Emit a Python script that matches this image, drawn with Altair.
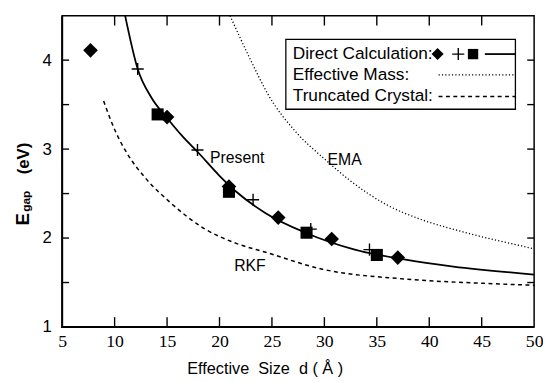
import altair as alt
import pandas as pd

# ---------------- data ----------------
diamond_d = [7.7, 15.0, 20.9, 25.6, 30.7, 37.0]
diamond_e = [4.11, 3.36, 2.58, 2.23, 1.99, 1.78]
square_d = [14.1, 20.9, 28.3, 35.0]
square_e = [3.39, 2.52, 2.06, 1.81]
plus_d = [12.2, 17.9, 23.2, 28.7, 34.3]
plus_e = [3.90, 2.99, 2.43, 2.10, 1.87]

present_d = [11.0, 12.2, 13.5, 15.0, 16.5, 17.9, 20.0, 21.6, 24.4, 28.2, 32.9, 37.6, 42.3, 50.0]
present_e = [4.50, 3.90, 3.58, 3.35, 3.14, 2.97, 2.70, 2.52, 2.28, 2.06, 1.87, 1.76, 1.68, 1.59]

ema_d = [21.0, 22.85, 24.7, 27.3, 30.1, 32.3, 36.0, 39.2, 43.2, 50.0]
ema_e = [4.50, 4.03, 3.60, 3.19, 2.88, 2.66, 2.37, 2.21, 2.07, 1.88]

rkf_d = [8.95, 10.0, 11.3, 12.9, 15.3, 18.5, 21.6, 24.4, 29.8, 37.6, 45.4, 50.0]
rkf_e = [3.54, 3.22, 2.93, 2.68, 2.40, 2.11, 1.94, 1.84, 1.65, 1.54, 1.49, 1.47]

curve_labels = ["Present", "EMA", "RKF"]
curve_label_d = [19.1, 30.3, 21.4]
curve_label_e = [2.90, 2.88, 1.68]

x_range = [5.0, 50.0]
y_range = [1.0, 4.5]
x_ticks = [5, 10, 15, 20, 25, 30, 35, 40, 45, 50]
y_ticks = [1, 2, 3, 4]
x_minor = [10, 15, 20, 25, 30, 35, 40, 45]
y_minor = [1.5, 2.0, 2.5, 3.0, 3.5, 4.0]

legend_rows = ["Direct Calculation:", "Effective Mass:", "Truncated Crystal:"]

# ---------------- chart ----------------
W, H = 479, 316
SANS = "Liberation Sans"
SERIF = "Liberation Serif"
XT, YT = 10, 7   # inward tick lengths (px)

xs = alt.Scale(domain=x_range, nice=False, zero=False)
ys = alt.Scale(domain=y_range, nice=False, zero=False)
xaxis = alt.Axis(values=x_ticks, ticks=False, domain=False, grid=False, labelFont=SERIF,
                 labelFontSize=18, labelPadding=6, labelColor="black",
                 title=None, labelFlush=False, format="d")
yaxis = alt.Axis(values=y_ticks, ticks=False, domain=False, grid=False, labelFont=SANS,
                 labelFontSize=17, labelPadding=11, labelColor="black",
                 title=None, labelFlush=False, format="d")
X = alt.X("d:Q", scale=xs, axis=xaxis)
Y = alt.Y("E:Q", scale=ys, axis=yaxis)

def df(d, e):
    return alt.Data(values=[{"d": float(a), "E": float(b)} for a, b in zip(d, e)])

present = alt.Chart(df(present_d, present_e)).mark_line(
    color="black", strokeWidth=1.8, interpolate="monotone").encode(x=X, y=Y, order="d:Q")
ema = alt.Chart(df(ema_d, ema_e)).mark_line(
    color="black", strokeWidth=1.3, strokeDash=[1.2, 2.2], interpolate="monotone").encode(x=X, y=Y, order="d:Q")
rkf = alt.Chart(df(rkf_d, rkf_e)).mark_line(
    color="black", strokeWidth=1.5, strokeDash=[4, 3.5], interpolate="monotone").encode(x=X, y=Y, order="d:Q")

diam = alt.Chart(df(diamond_d, diamond_e)).mark_point(
    shape="diamond", filled=True, color="black", size=220, opacity=1).encode(x=X, y=Y)
sq = alt.Chart(df(square_d, square_e)).mark_point(
    shape="square", filled=True, color="black", size=150, opacity=1).encode(x=X, y=Y)
PLUS = "M-1,0L1,0M0,-1L0,1"
pl = alt.Chart(df(plus_d, plus_e)).mark_point(
    shape=PLUS, filled=False, color="black", strokeWidth=1.4, size=150, opacity=1).encode(x=X, y=Y)

lab = alt.Chart(pd.DataFrame({"d": curve_label_d, "E": curve_label_e, "t": curve_labels})).mark_text(
    font=SANS, fontSize=16, align="left", baseline="middle", color="black").encode(x=X, y=Y, text="t:N")

one = pd.DataFrame({"k": [0]})

def box_px(x1, x2, y1, y2):
    return alt.Chart(one).mark_rect(fill="black", opacity=1).encode(
        x=alt.value(x1), x2=alt.value(x2), y=alt.value(y1), y2=alt.value(y2))

def px_x(v):
    return (v - x_range[0]) / (x_range[1] - x_range[0]) * W

def px_y(v):
    return H - (v - y_range[0]) / (y_range[1] - y_range[0]) * H

# inward ticks on all four sides, placed through the same linear mapping as the axes
tick_layers = []
for v in x_minor:
    p = px_x(v)
    tick_layers.append(box_px(p - 0.7, p + 0.7, H - XT, H))      # bottom
    tick_layers.append(box_px(p - 0.7, p + 0.7, 0, XT))          # top
for v in y_minor:
    p = px_y(v)
    tick_layers.append(box_px(0, YT, p - 0.7, p + 0.7))          # left
    tick_layers.append(box_px(W - YT, W, p - 0.7, p + 0.7))      # right

# heavier left and bottom frame lines
left_line = box_px(-1, 1, 0, H + 1)
bottom_line = box_px(-1, W, H - 1, H + 1)

# legend box
box = alt.Chart(one).mark_rect(fill="white", stroke="black", strokeWidth=1.3).encode(
    x=alt.value(227), x2=alt.value(460), y=alt.value(24), y2=alt.value(95))
leg_rows = []
for txt, yy in zip(legend_rows, [39, 60, 82]):
    leg_rows.append(alt.Chart(one).mark_text(
        font=SANS, fontSize=17.5, align="left", baseline="middle", color="black", text=txt).encode(
        x=alt.value(234), y=alt.value(yy)))
leg_d = alt.Chart(one).mark_point(shape="diamond", filled=True, color="black", size=150, opacity=1).encode(
    x=alt.value(381), y=alt.value(39))
leg_p = alt.Chart(one).mark_point(shape=PLUS, filled=False, color="black", strokeWidth=1.4, size=150, opacity=1).encode(
    x=alt.value(402), y=alt.value(39))
leg_s = alt.Chart(one).mark_point(shape="square", filled=True, color="black", size=110, opacity=1).encode(
    x=alt.value(417), y=alt.value(39))
leg_l1 = alt.Chart(one).mark_rule(color="black", strokeWidth=1.8).encode(
    x=alt.value(429), x2=alt.value(460), y=alt.value(39))
leg_l2 = alt.Chart(one).mark_rule(color="black", strokeWidth=1.3, strokeDash=[1.2, 2.2]).encode(
    x=alt.value(382), x2=alt.value(460), y=alt.value(60))
leg_l3 = alt.Chart(one).mark_rule(color="black", strokeWidth=1.5, strokeDash=[4, 3.5]).encode(
    x=alt.value(382), x2=alt.value(460), y=alt.value(82))

# axis titles
xtitle = alt.Chart(one).mark_text(font=SANS, fontSize=16.5, align="center", baseline="alphabetic",
                                  color="black",
                                  text="Effective\u00a0\u00a0Size\u00a0\u00a0d\u00a0(\u00a0Å\u00a0)").encode(
    x=alt.value(206), y=alt.value(364))
yt_E = alt.Chart(one).mark_text(font=SANS, fontSize=19, fontWeight="bold", angle=270, align="left",
                                baseline="alphabetic", color="black", text="E").encode(
    x=alt.value(-34), y=alt.value(213))
yt_gap = alt.Chart(one).mark_text(font=SANS, fontSize=12, fontWeight="bold", angle=270, align="left",
                                  baseline="alphabetic", color="black", text="gap").encode(
    x=alt.value(-33), y=alt.value(199))
yt_ev = alt.Chart(one).mark_text(font=SANS, fontSize=17, fontWeight="bold", angle=270, align="left",
                                 baseline="alphabetic", color="black", text="(eV)").encode(
    x=alt.value(-34), y=alt.value(161))

chart = alt.layer(
    present, ema, rkf, diam, sq, pl, lab, *tick_layers, left_line, bottom_line,
    box, *leg_rows, leg_d, leg_p, leg_s, leg_l1, leg_l2, leg_l3,
    xtitle, yt_E, yt_gap, yt_ev,
).properties(
    width=W, height=H,
    autosize=alt.AutoSizeParams(type="none"),
    padding={"left": 55, "top": 5, "right": 9, "bottom": 50},
    background="white",
).configure_view(stroke="black", strokeWidth=1.5)

chart.save("out.html", embed_options={"renderer": "svg", "actions": False})
